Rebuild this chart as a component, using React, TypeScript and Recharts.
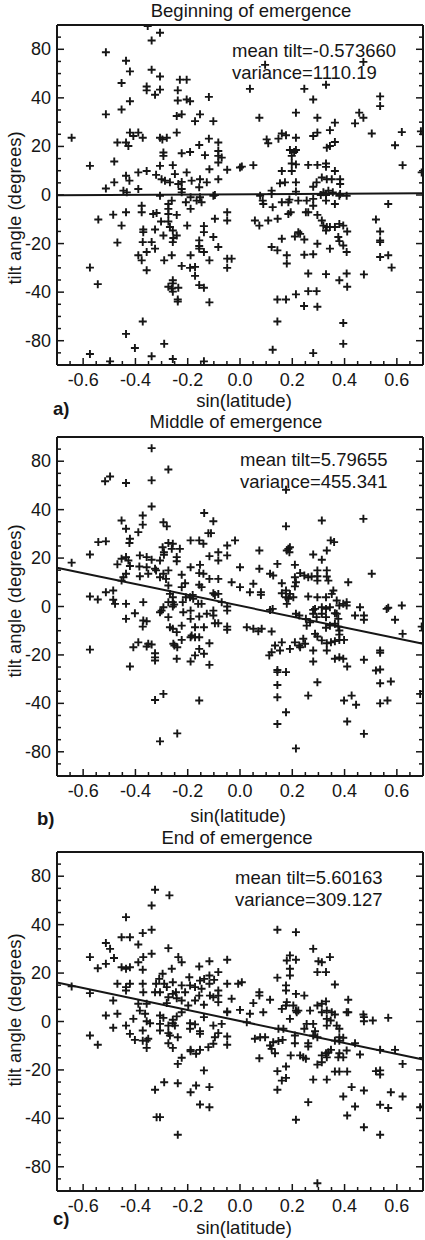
import React from 'react';
import { ScatterChart, Scatter, XAxis, YAxis, ReferenceLine } from 'recharts';

// ---------- axis ticks ----------
const xMinorTicks = [-0.65, -0.6, -0.55, -0.5, -0.45, -0.4, -0.35, -0.3, -0.25, -0.2, -0.15, -0.1, -0.05, 0, 0.05, 0.1, 0.15, 0.2, 0.25, 0.3, 0.35, 0.4, 0.45, 0.5, 0.55, 0.6, 0.65];
const xMajorTicks = [-0.6, -0.4, -0.2, 0, 0.2, 0.4, 0.6];
const xTickLabels = ['-0.6', '-0.4', '-0.2', '0.0', '0.2', '0.4', '0.6'];
const yMinorTicks = [-65, -60, -55, -50, -45, -40, -35, -30, -25, -20, -15, -10, -5, 0, 5, 10, 15, 20, 25, 30, 35, 40, 45, 50, 55, 60, 65];
const yMajorTicks = [-60, -40, -20, 0, 20, 40, 60];
const yTickLabels = ['-80', '-40', '-20', '0', '20', '40', '80'];

// ---------- texts ----------
const titles = ['Beginning of emergence', 'Middle of emergence', 'End of emergence'];
const meanTilts = ['mean tilt=-0.573660', 'mean tilt=5.79655', 'mean tilt=5.60163'];
const variances = ['variance=1110.19', 'variance=455.341', 'variance=309.127'];
const panelLetters = ['a)', 'b)', 'c)'];
const xTitle = 'sin(latitude)';
const yTitle = 'tilt angle (degrees)';

// ---------- fitted lines: value at sin(lat) = -0.7 and +0.7 ----------
const fitBeginning = [-0.1, 0.7];
const fitMiddle = [16, -15.4];
const fitEnd = [16.1, -15.7];

// ---------- data: [sin(latitude), tilt (axis units)] ----------
const beginningPts: [number, number][] = [
  [-0.644, 23.6], [-0.574, 12], [-0.513, 58.8], [-0.513, 33.2], [-0.513, 2.7], [-0.481, 13.8], [-0.481, 5.2], [-0.469, 21.6], [-0.453, 46.1], [-0.453, 35.2],
  [-0.436, 55.3], [-0.421, 50.9], [-0.421, 38.6], [-0.436, 21.6], [-0.427, 20.2], [-0.421, 25.7], [-0.408, 24.3], [-0.389, 25.7], [-0.372, 23.6], [-0.436, 7.9],
  [-0.423, 5.9], [-0.446, 1.8], [-0.433, 1.1], [-0.389, 9.3], [-0.389, 2.5], [-0.357, 9.9], [-0.353, 69.6], [-0.338, 63.6], [-0.306, 66.8], [-0.338, 51.6],
  [-0.357, 44.7], [-0.357, 43.1], [-0.325, 41.3], [-0.306, 43.4], [-0.306, 48.8], [-0.321, 8.3], [-0.306, 23.6], [-0.297, 22.9], [-0.28, 23.6], [-0.293, 17.5],
  [-0.293, 16.1], [-0.306, 12], [-0.3, 6.5], [-0.287, 5.9], [-0.268, 5.2], [-0.257, 12.3], [-0.249, 8.6], [-0.242, 25.7], [-0.238, 43.1], [-0.238, 38.9],
  [-0.242, 32.5], [-0.223, 33.2], [-0.23, 47.5], [-0.204, 47.5], [-0.204, 39.3], [-0.191, 38.6], [-0.223, 17.2], [-0.223, 5.4], [-0.236, 4.5], [-0.223, 2.5],
  [-0.204, 9.3], [-0.191, 17.7], [-0.185, 5.9], [-0.172, 30.4], [-0.153, 33.2], [-0.156, 20.6], [-0.153, 6.5], [-0.156, 3.2], [-0.134, 16.4], [-0.127, 5.2],
  [-0.119, 40.4], [-0.119, 23.2], [-0.117, 10.6], [-0.102, 30.4], [-0.083, 21.6], [-0.083, 18.1], [-0.083, 16.1], [-0.083, 13.4], [-0.07, 15.4], [-0.083, 6.5],
  [-0.049, 10.4], [0, 11.3],
  [0.096, 53.6], [0.038, 43.7], [0.074, 31.8], [0.246, 43.7], [0.28, 39.3], [0.329, 45.4], [0.214, 33.9], [0.296, 31.8], [0.363, 29.8], [0.344, 26.7],
  [0.296, 25.7], [0.28, 24.3], [0.363, 21.8], [0.332, 19.5], [0.344, 20.2], [0.456, 33.9], [0.472, 31.8], [0.44, 29.5], [0.536, 40.6], [0.536, 36.6],
  [0.504, 25.3], [0.619, 25.9], [0.593, 20.5], [0.622, 12.3], [0.695, 9.3], [0.692, 26.2], [0.102, 22.9], [0.108, 21.3], [0.147, 23.2], [0.16, 25.3],
  [0.176, 24.6], [0.214, 23.6], [0.191, 18.5], [0.207, 17.7], [0.198, 16.1], [0.214, 18.5], [0.198, 13], [0.214, 12.6], [0.16, 9.9], [0.198, 9.9],
  [0.261, 12.4], [0.296, 12.4], [0.329, 13], [0.329, 11.6], [0.363, 9.9], [0.007, 11.7], [0.051, 12.3], [0.153, 4.8], [0.172, 5.2], [0.214, 5.2],
  [0.28, 3.4], [0.293, 5.2], [0.313, 7.2], [0.332, 6.5], [0.351, 6.5], [0.383, 6.5], [0.383, 4.5], [0.121, 1.8], [0.121, 0.4], [0.077, -0.3],
  [0.214, 1.4], [0.319, 1.1], [0.338, 1.8], [0.355, 1.1], [0.383, 0.4], [-0.102, -0.3], [0.472, 54.8],
  [-0.542, -10.1], [-0.485, -8.1], [-0.436, -7.1], [-0.453, -12.6], [-0.469, -19.6], [-0.574, -29.9], [-0.544, -36.7], [-0.376, -4.4], [-0.376, -7.1], [-0.37, -14.2],
  [-0.37, -15.3], [-0.372, -19.4], [-0.389, -24.8], [-0.376, -26.9], [-0.357, -23.5], [-0.357, -31], [-0.338, -19.4], [-0.332, -7.8], [-0.325, -14.2], [-0.325, -22.1],
  [-0.319, -7.4], [-0.306, -0.3], [-0.302, -10.9], [-0.293, -16.7], [-0.29, -26.9], [-0.274, -3.7], [-0.274, -5.7], [-0.274, -7.8], [-0.274, -10.9], [-0.268, -13.2],
  [-0.261, -2.3], [-0.257, -14.6], [-0.255, -17.7], [-0.257, -19.4], [-0.261, -24.8], [-0.257, -35.1], [-0.257, -36.4], [-0.274, -37.8], [-0.261, -38.5], [-0.257, -39.8],
  [-0.242, -16.7], [-0.242, -8.2], [-0.236, -38.2], [-0.238, -43], [-0.238, -43.9], [-0.223, 1.1], [-0.223, -29.2], [-0.207, -3], [-0.202, -12.6], [-0.189, -0.9],
  [-0.189, -5.7], [-0.189, -24.8], [-0.191, -30], [-0.172, -29.6], [-0.172, -33.3], [-0.166, -2.3], [-0.153, -0.9], [-0.147, -3], [-0.138, -12.8], [-0.138, -15.3],
  [-0.156, -18.7], [-0.156, -21], [-0.156, -22.1], [-0.138, -23.5], [-0.156, -37.1], [-0.138, -38.2], [-0.117, -26.9], [-0.102, -17.3], [-0.096, 0], [-0.096, -9.8],
  [-0.083, -21.4], [-0.117, -44.2], [-0.049, -7.1], [-0.049, -10.5], [-0.049, -26.2], [-0.032, -26.2], [-0.049, -30], [-0.372, -52.1], [-0.436, -57.2], [-0.402, -63],
  [-0.574, -65.5], [-0.29, -61.3], [-0.338, -66.4], [-0.257, -67.5], [-0.497, -68.5], [-0.138, -68.5],
  [0.057, -10.5], [0.074, -12.6], [0.108, -10.5], [0.144, -9.8], [0.087, -2.3], [0.089, -3.7], [0.125, -5], [0.16, -3], [0.185, -3], [0.189, -1.9],
  [0.185, -7.8], [0.194, -7.1], [0.223, -2.3], [0.255, -2.3], [0.252, -7.1], [0.261, -7.1], [0.28, -1.6], [0.28, -4.4], [0.296, -8.2], [0.309, 0],
  [0.329, 0], [0.329, -2.3], [0.363, -3.7], [0.38, -0.3], [0.408, -0.3], [0.313, -10.5], [0.319, -12.6], [0.332, -13.2], [0.344, -13.2], [0.363, -13.2],
  [0.38, -11.9], [0.395, -12.6], [0.41, -15], [0.329, -14.6], [0.16, -18], [0.121, -21.4], [0.143, -22.8], [0.21, -17.1], [0.223, -15.3], [0.23, -16],
  [0.246, -18.3], [0.296, -20.1], [0.344, -22.1], [0.376, -17.3], [0.38, -19], [0.395, -20.8], [0.408, -23.5], [0.179, -24.8], [0.179, -28.2], [0.246, -24.6],
  [0.28, -24.4], [0.261, -32.3], [0.329, -32.6], [0.38, -35.1], [0.408, -32.3], [0.41, -37.8], [0.474, -32.7], [0.52, -10.1], [0.536, -15], [0.536, -18.7],
  [0.536, -19.4], [0.536, -25.5], [0.567, -24.8], [0.58, -29.9], [0.567, -3.7], [0.214, -40.9], [0.261, -39.6], [0.293, -39.6], [0.143, -43], [0.176, -43],
  [0.245, -45.7], [0.296, -46], [0.143, -52.1], [0.395, -52.7], [0.395, -61.3], [0.125, -63.7], [0.28, -65.1],
];

const middlePts: [number, number][] = [
  [-0.644, 18.1], [-0.574, 21.5], [-0.542, 26.6], [-0.513, 26.9], [-0.574, 4.1], [-0.544, 2.9], [-0.513, 5.9], [-0.485, 6.6], [-0.485, 2.8], [-0.478, 1.1],
  [-0.469, 17.4], [-0.453, 35.5], [-0.436, 32.1], [-0.453, 19.7], [-0.446, 12.1], [-0.436, 13.5], [-0.453, 10.7], [-0.436, 1.1], [-0.421, 28], [-0.423, 26.2],
  [-0.436, 20.4], [-0.427, 19], [-0.421, 16.7], [-0.516, 51.7], [-0.497, 53.7], [-0.436, 51], [-0.389, 30.7], [-0.383, 21.1], [-0.385, 16.5], [-0.383, 12.5],
  [-0.372, 37.6], [-0.372, 33.8], [-0.37, 1.8], [-0.357, 16.2], [-0.351, 13.5], [-0.357, 20.4], [-0.338, 65.4], [-0.338, 52.1], [-0.338, 41.3], [-0.338, 19.3],
  [-0.325, 15.6], [-0.321, 14.9], [-0.306, 19], [-0.306, 12.1], [-0.293, 34.8], [-0.28, 33.1], [-0.296, 24.5], [-0.291, 22.4], [-0.291, 21.4], [-0.274, 56.6],
  [-0.274, 26.2], [-0.257, 25.9], [-0.261, 23.8], [-0.274, 8.7], [-0.274, 14.9], [-0.293, 13.5], [-0.283, 11.4], [-0.268, 5.2], [-0.257, 3.8], [-0.252, 0.8],
  [-0.242, 20.4], [-0.242, 18.7], [-0.23, 23.8], [-0.223, 13.1], [-0.21, 9.6], [-0.223, 8], [-0.207, 3.8], [-0.191, 3.8], [-0.189, 16.2], [-0.189, 27.3],
  [-0.179, 3.2], [-0.181, 4.8], [-0.156, 27.3], [-0.153, 17.2], [-0.156, 13.8], [-0.156, 9], [-0.137, 38.6], [-0.14, 25.9], [-0.14, 13.5], [-0.147, 8],
  [-0.121, 30.3], [-0.111, 30.3], [-0.117, 20.8], [-0.117, 11.4], [-0.102, 35.2], [-0.102, 5.5], [-0.083, 22.4], [-0.083, 19], [-0.083, 11.4], [-0.096, 4.8],
  [-0.083, 5.2], [-0.049, 25.2], [-0.049, 21.1], [-0.032, 10], [-0.019, 27.3], [0, 16.2], [0, 8],
  [0.176, 48.2], [0.074, 23.1], [0.074, 15.6], [0.038, 5.9], [0.051, 9.4], [0.08, 5.9], [0.08, 4.8], [0.115, 13.5], [0.127, 12.8], [0.143, 17.6],
  [0.16, 9.6], [0.16, 5.5], [0.176, 33.1], [0.179, 23.1], [0.185, 23.8], [0.191, 24.5], [0.189, 22.4], [0.176, 6.6], [0.176, 3.8], [0.185, 3.2],
  [0.21, 17.2], [0.21, 12.1], [0.214, 10], [0.21, 8.3], [0.191, 5.2], [0.204, 3.8], [0.23, 13.8], [0.246, 12.8], [0.261, 12.1], [0.274, 12.4],
  [0.261, 4.1], [0.28, 21.5], [0.296, 14.9], [0.296, 12.5], [0.296, 10.7], [0.296, 3.8], [0.313, 35.5], [0.313, 19.3], [0.332, 23.1], [0.332, 14.9],
  [0.332, 12.4], [0.338, 10.7], [0.329, 3.8], [0.347, 27.3], [0.36, 26.6], [0.357, 6.6], [0.351, 5.2], [0.313, -0.3], [0.37, 2.5], [0.38, 0.4],
  [0.408, 1.8], [0.414, 10], [0.472, 36.2], [0.504, 13.5], [0.459, -0.3], [0.567, -0.5], [0.619, 0.4], [0.125, -1], [0.28, -1.4],
  [-0.574, -17.8], [-0.436, -5.1], [-0.402, -2.8], [-0.37, -5.8], [-0.372, -8.3], [-0.357, -6.1], [-0.421, -24.8], [-0.408, -16.8], [-0.389, -14.8], [-0.357, -16.5],
  [-0.351, -15.4], [-0.338, -15.7], [-0.325, -19.3], [-0.325, -21], [-0.325, -22.3], [-0.325, -38.6], [-0.293, -36.1], [-0.306, -55.7], [-0.306, -2.4], [-0.3, -1.7],
  [-0.293, -0.3], [-0.274, 1.8], [-0.274, -4.4], [-0.268, -8.6], [-0.257, 1.8], [-0.257, 0], [-0.257, -9.2], [-0.255, -15.4], [-0.251, -16.1], [-0.242, -10.6],
  [-0.24, -16.8], [-0.242, -21.6], [-0.24, -52.4], [-0.223, -7.9], [-0.223, -13.8], [-0.217, -2.4], [-0.219, 1.8], [-0.189, -1.7], [-0.189, -5.1], [-0.189, -12.7],
  [-0.189, -22.7], [-0.185, -12], [-0.172, -12.7], [-0.172, -20.2], [-0.172, -8.6], [-0.16, 1.1], [-0.156, -4.1], [-0.156, -12.7], [-0.156, -17.5], [-0.156, -38.8],
  [-0.147, 1.1], [-0.138, -8.6], [-0.138, -19.5], [-0.127, -3], [-0.117, -15.2], [-0.117, -24.1], [-0.102, -1.7], [-0.102, -3.7], [-0.096, -6.9], [-0.083, -6.9],
  [-0.049, 0], [-0.049, -1.7], [-0.049, -8.3], [-0.049, -9.6],
  [-0.07, 1.8], [0.026, -8.6], [0.051, -9.2], [0.07, -10.2], [0.083, -9.2], [0.121, -10.3], [0.115, -1.4], [0.179, 1.1], [0.214, -3], [0.227, -3.7],
  [0.255, -7.9], [0.252, -5.1], [0.268, -6.5], [0.28, -3], [0.287, -1], [0.293, -4.4], [0.313, -3], [0.329, -1], [0.329, -4.4], [0.329, -8.8],
  [0.344, -0.3], [0.344, -7.9], [0.363, -2.8], [0.363, -7.1], [0.37, -3], [0.376, -5.1], [0.376, -8.3], [0.38, -9.9], [0.38, -11.6], [0.395, 1.1],
  [0.408, 0.4], [0.44, -3.7], [0.474, -3.7], [0.474, -5.5], [0.561, -1], [0.593, -5.5], [0.622, -11.3], [0.695, -8.3], [0.112, -20.2], [0.121, -18.9],
  [0.134, -16.1], [0.153, -18.2], [0.16, -14.8], [0.191, -17.5], [0.21, -14.8], [0.227, -16.1], [0.23, -16.8], [0.242, -13.3], [0.249, -15.4], [0.28, -18.2],
  [0.28, -22.7], [0.287, -11.3], [0.296, -12.4], [0.313, -14], [0.332, -15.2], [0.332, -18.2], [0.348, -14.8], [0.363, -14.3], [0.38, -13.8], [0.398, -13.8],
  [0.363, -21.6], [0.38, -21], [0.395, -21.6], [0.41, -24.8], [0.474, -22], [0.536, -18.2], [0.536, -19.1], [0.52, -26.4], [0.536, -26], [0.536, -31.7],
  [0.577, -31], [0.143, -26.2], [0.143, -27.1], [0.176, -27.1], [0.143, -32.4], [0.143, -37.5], [0.176, -43.7], [0.143, -48.5], [0.214, -58.6], [0.261, -36.8],
  [0.296, -31.3], [0.398, -38.8], [0.427, -36.8], [0.444, -40.6], [0.41, -47.5], [0.474, -52.6], [0.536, -40], [0.564, -38.8], [0.689, -36.1],
];

const endPts: [number, number][] = [
  [-0.644, 14.5], [-0.574, 11.7], [-0.574, 26.6], [-0.544, 22], [-0.513, 23.8], [-0.513, 32.4], [-0.497, 30], [-0.482, 26.2], [-0.485, 8.7], [-0.469, 3.2],
  [-0.513, 2.5], [-0.453, 34.8], [-0.436, 43.1], [-0.421, 34.8], [-0.389, 31.8], [-0.453, 22.4], [-0.436, 21.8], [-0.421, 22.4], [-0.469, 15.6], [-0.436, 14.2],
  [-0.421, 15.6], [-0.436, 12.8], [-0.389, 7.3], [-0.383, 4.5], [-0.372, 36.5], [-0.37, 26.6], [-0.372, 21.4], [-0.372, 15.6], [-0.37, 12.1], [-0.389, 24.5],
  [-0.357, 7.3], [-0.363, 3.2], [-0.338, 37.9], [-0.338, 47.9], [-0.325, 54.4], [-0.27, 52.1], [-0.274, 30.3], [-0.338, 28], [-0.321, 15.6], [-0.325, 12.1],
  [-0.309, 17.6], [-0.306, 12.1], [-0.296, 19.7], [-0.29, 15.6], [-0.28, 14.2], [-0.274, 10], [-0.28, 7.6], [-0.257, 16.2], [-0.261, 21.8], [-0.257, 11.4],
  [-0.245, 12.1], [-0.242, 9.6], [-0.236, 26.6], [-0.223, 24.5], [-0.223, 14.9], [-0.223, 8.7], [-0.21, 12.1], [-0.198, 6.6], [-0.194, 18.3], [-0.191, 14.9],
  [-0.172, 14.2], [-0.172, 8.7], [-0.156, 22.7], [-0.153, 16.9], [-0.147, 13.5], [-0.156, 10.7], [-0.138, 6.9], [-0.137, 17.6], [-0.117, 24.9], [-0.117, 19],
  [-0.117, 15.6], [-0.115, 10.7], [-0.083, 20.4], [-0.083, 12.8], [-0.083, 10.7], [-0.083, 8], [-0.102, 10], [-0.049, 25.5], [-0.049, 15.6], [-0.049, 4.1],
  [-0.032, 9.4], [-0.007, 15.6],
  [0.143, 37.9], [0.214, 36.9], [0.28, 30], [0.191, 27.3], [0.179, 25.2], [0.214, 25.5], [0.3, 24.9], [0.313, 24.5], [0.344, 26.6], [0.296, 20.4],
  [0.329, 20.4], [0.191, 21.8], [0.191, 19], [0.143, 18.1], [0.363, 15.3], [0.176, 14.9], [0.176, 12.8], [0.214, 11.4], [0.246, 10.7], [0.074, 12.1],
  [0.074, 10.7], [0.115, 9], [0.051, 7.6], [0.089, 3.8], [0.16, 5.2], [0.176, 6.6], [0.179, 8], [0.214, 4.5], [0.223, 4.5], [0.204, 6.6],
  [0.268, 4.5], [0.296, 6.6], [0.313, 7.3], [0.329, 8.3], [0.313, 3.8], [0.332, 4.5], [0.351, 3.8], [0.414, 9], [0.414, 3.8], [0.472, 2.9],
  [0.567, 1.5], [0, 4.8], [0.038, 3.2], [0.007, 16.2], [-0.099, 17.2],
  [-0.574, -5.8], [-0.544, -9.6], [-0.485, -2.6], [-0.436, -1.7], [-0.421, -5.1], [-0.408, 1.1], [-0.402, -7.6], [-0.372, -3.7], [-0.372, -7.9], [-0.357, -7.9],
  [-0.357, -10.9], [-0.351, -7.1], [-0.344, -0.7], [-0.357, 0.1], [-0.325, -28.2], [-0.319, -39.5], [-0.306, -39.5], [-0.306, -1], [-0.306, -3.7], [-0.306, 2.5],
  [-0.293, 1.5], [-0.29, -25.1], [-0.274, -1.7], [-0.274, -4.8], [-0.274, -9], [-0.268, -5.8], [-0.257, 0.7], [-0.257, -0.7], [-0.257, -10.9], [-0.249, -1.7],
  [-0.242, 2.1], [-0.238, -6.5], [-0.238, -25.5], [-0.238, -17.5], [-0.238, -46.8], [-0.223, -15], [-0.223, 3.8], [-0.191, -0.7], [-0.191, -3], [-0.189, -11.7],
  [-0.189, -12.3], [-0.189, -29.2], [-0.172, -1.2], [-0.168, -13.3], [-0.168, -26.4], [-0.153, -4], [-0.153, -5.1], [-0.153, -11.7], [-0.153, -34.3], [-0.138, -20.2],
  [-0.138, 1.8], [-0.121, -10.6], [-0.117, -27.1], [-0.117, -35.4], [-0.102, -1.7], [-0.096, -6.5], [-0.102, -9.2], [-0.083, -4.8], [-0.049, 3.8], [-0.049, -6.2],
  [-0.049, -9.6],
  [-0.07, -1], [0.026, -0.3], [0.057, -7.1], [0.077, -6.5], [0.096, -6.5], [0.074, -15.2], [0.115, -9.9], [0.121, -11.3], [0.127, -8.6], [0.134, -13.1],
  [0.147, -8.1], [0.163, -7.6], [0.147, -3], [0.166, -3], [0.191, 1.1], [0.217, 3.8], [0.21, -5.8], [0.21, -9], [0.194, -14], [0.23, -14],
  [0.242, -14.8], [0.252, -15.4], [0.261, -9], [0.261, -10.3], [0.246, -3], [0.255, -1], [0.28, -1], [0.287, -4], [0.28, -5.8], [0.296, -6.5],
  [0.296, -17.8], [0.313, -14], [0.313, -16.8], [0.329, -13.1], [0.338, -12.7], [0.348, -11.7], [0.332, -14.8], [0.332, 1.1], [0.332, -1.7], [0.347, 0.4],
  [0.363, 2.9], [0.37, -1.7], [0.38, -3], [0.38, -6.5], [0.38, -7.9], [0.395, -6.7], [0.408, 3.8], [0.363, -7.9], [0.38, -13.1], [0.395, -14.8],
  [0.376, -14.8], [0.408, -12], [0.474, 1.8], [0.474, 0.1], [0.508, 0.4], [0.44, -9], [0.459, -13.6], [0.536, -11.7], [0.593, -11.7], [0.622, -17.5],
  [0.143, -20.5], [0.176, -18.6], [0.16, -24.4], [0.176, -23.3], [0.143, -28.2], [0.28, -24], [0.332, -24], [0.363, -20.7], [0.38, -20.7], [0.41, -20.7],
  [0.52, -20.5], [0.536, -20.2], [0.536, -21.9], [0.427, -27.1], [0.395, -31], [0.474, -28.5], [0.577, -29.2], [0.622, -31], [0.261, -33.3], [0.44, -35.1],
  [0.536, -34.4], [0.567, -35.7], [0.689, -35.4], [0.41, -38.8], [0.214, -40.6], [0.474, -43.7], [0.536, -46.8], [0.296, -66.8],
];

// ---------- styling / layout ----------
const FONT = '"Liberation Sans", Arial, Helvetica, sans-serif';
const INK = '#161616';
const FS = 18.5;
const X_DOMAIN: [number, number] = [-0.7, 0.7];
const Y_DOMAIN: [number, number] = [-70, 70];

const majorIdx = (list: number[], v: number) => list.findIndex((m) => Math.abs(m - v) < 1e-6);

const BottomTick = (props: any) => {
  const { x, y, payload } = props;
  const i = majorIdx(xMajorTicks, payload.value);
  const len = i >= 0 ? 7 : 4;
  return (
    <g>
      <line x1={x} y1={y} x2={x} y2={y - len} stroke={INK} strokeWidth={1.5} />
      {i >= 0 && (
        <text x={x} y={y + 15} textAnchor="middle" dominantBaseline="central" fontFamily={FONT} fontSize={18} fill={INK}>
          {xTickLabels[i]}
        </text>
      )}
    </g>
  );
};
const TopTick = (props: any) => {
  const { x, y, payload } = props;
  const len = majorIdx(xMajorTicks, payload.value) >= 0 ? 7 : 4;
  return <line x1={x} y1={y} x2={x} y2={y + len} stroke={INK} strokeWidth={1.5} />;
};
const LeftTick = (props: any) => {
  const { x, y, payload } = props;
  const i = majorIdx(yMajorTicks, payload.value);
  const len = i >= 0 ? 7 : 4;
  return (
    <g>
      <line x1={x} y1={y} x2={x + len} y2={y} stroke={INK} strokeWidth={1.5} />
      {i >= 0 && (
        <text x={x - 6} y={y} textAnchor="end" dominantBaseline="central" fontFamily={FONT} fontSize={18} fill={INK}>
          {yTickLabels[i]}
        </text>
      )}
    </g>
  );
};
const RightTick = (props: any) => {
  const { x, y, payload } = props;
  const len = majorIdx(yMajorTicks, payload.value) >= 0 ? 7 : 4;
  return <line x1={x} y1={y} x2={x - len} y2={y} stroke={INK} strokeWidth={1.5} />;
};

const Plus = (props: any) => {
  const { cx, cy } = props;
  if (cx == null || cy == null) return null;
  return <path d={`M${cx - 4},${cy}h8M${cx},${cy - 4}v8`} stroke={INK} strokeWidth={1.9} fill="none" />;
};

// margins account for the 1px axis thickness on each side
const panels = [
  { pts: beginningPts, fit: fitBeginning, top: 0, margin: { top: 24, right: 1, bottom: 49, left: 56 },
    titleX: 251, titleY: 10, statX: 232, statY: 50, yLabY: 208, xLabX: 244, xLabY: 400, letterX: 53, letterY: 408 },
  { pts: middlePts, fit: fitMiddle, top: 410, margin: { top: 26, right: 1, bottom: 48, left: 56 },
    titleX: 236, titleY: 421, statX: 240, statY: 459, yLabY: 601, xLabX: 238, xLabY: 815, letterX: 37, letterY: 818 },
  { pts: endPts, fit: fitEnd, top: 825, margin: { top: 26, right: 1, bottom: 48, left: 56 },
    titleX: 237, titleY: 837, statX: 235, statY: 877, yLabY: 1010, xLabX: 244, xLabY: 1227, letterX: 53, letterY: 1218 },
];

const axisLine = { stroke: INK, strokeWidth: 2 };

function Panel({ p }: { p: (typeof panels)[number] }) {
  const data = p.pts.map(([x, y]) => ({ x, y }));
  return (
    <ScatterChart width={425} height={415} margin={p.margin}>
      <XAxis xAxisId={0} dataKey="x" type="number" domain={X_DOMAIN} allowDataOverflow orientation="bottom" height={1}
        ticks={xMinorTicks} interval={0} tickLine={false} tickSize={0} tickMargin={0} axisLine={axisLine} tick={<BottomTick />} />
      <XAxis xAxisId="top" type="number" domain={X_DOMAIN} allowDataOverflow orientation="top" height={1}
        ticks={xMinorTicks} interval={0} tickLine={false} tickSize={0} tickMargin={0} axisLine={axisLine} tick={<TopTick />} />
      <YAxis yAxisId={0} dataKey="y" type="number" domain={Y_DOMAIN} allowDataOverflow orientation="left" width={1}
        ticks={yMinorTicks} interval={0} tickLine={false} tickSize={0} tickMargin={0} axisLine={axisLine} tick={<LeftTick />} />
      <YAxis yAxisId="right" type="number" domain={Y_DOMAIN} allowDataOverflow orientation="right" width={1}
        ticks={yMinorTicks} interval={0} tickLine={false} tickSize={0} tickMargin={0} axisLine={axisLine} tick={<RightTick />} />
      <ReferenceLine xAxisId={0} yAxisId={0} segment={[{ x: X_DOMAIN[0], y: p.fit[0] }, { x: X_DOMAIN[1], y: p.fit[1] }]}
        stroke={INK} strokeWidth={2} ifOverflow="visible" />
      <Scatter xAxisId={0} yAxisId={0} data={data} shape={<Plus />} isAnimationActive={false} />
    </ScatterChart>
  );
}

export default function App() {
  return (
    <div style={{ position: 'absolute', left: 0, top: 0, width: 425, height: 1240, background: '#fff', overflow: 'hidden' }}>
      {panels.map((p, i) => (
        <div key={i} style={{ position: 'absolute', left: 0, top: p.top }}>
          <Panel p={p} />
        </div>
      ))}
      <svg width={425} height={1240} style={{ position: 'absolute', left: 0, top: 0, pointerEvents: 'none' }}>
        {panels.map((p, i) => (
          <g key={i} fontFamily={FONT} fill={INK}>
            <text x={p.titleX} y={p.titleY} textAnchor="middle" dominantBaseline="central" fontSize={FS}>{titles[i]}</text>
            <text x={p.statX} y={p.statY} dominantBaseline="central" fontSize={FS}>{meanTilts[i]}</text>
            <text x={p.statX} y={p.statY + 22} dominantBaseline="central" fontSize={FS}>{variances[i]}</text>
            <text x={14} y={p.yLabY} textAnchor="middle" dominantBaseline="central" fontSize={FS}
              transform={`rotate(-90 14 ${p.yLabY})`}>{yTitle}</text>
            <text x={p.xLabX} y={p.xLabY} textAnchor="middle" dominantBaseline="central" fontSize={FS}>{xTitle}</text>
            <text x={p.letterX} y={p.letterY} dominantBaseline="central" fontSize={FS} fontWeight="bold">{panelLetters[i]}</text>
          </g>
        ))}
      </svg>
    </div>
  );
}
